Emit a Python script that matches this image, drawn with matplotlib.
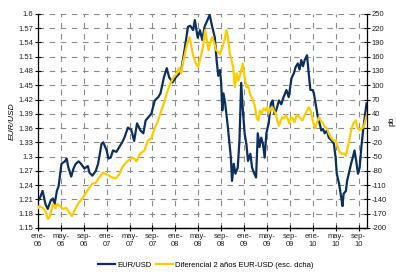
import numpy as np
import matplotlib
matplotlib.use("Agg")
import matplotlib.pyplot as plt

plt.rcParams['font.family'] = ['Liberation Sans', 'DejaVu Sans']

# months since ene-06 for each traced point
eur_m = [0.0, 0.3, 0.8, 1.3, 1.7, 2.2, 2.6, 2.9, 3.3, 3.6, 4.1, 4.7, 5.0, 5.3, 5.5, 5.8,
         6.2, 6.6, 7.1, 7.5, 8.1, 8.7, 9.0, 9.5, 10.1, 10.5, 11.1, 11.4, 12.0, 12.3,
         12.7, 13.1, 13.7, 14.2, 14.7, 15.1, 15.7, 16.3, 16.8, 17.3, 17.9, 18.4, 18.8,
         19.8, 20.4, 21.0, 21.4, 22.0, 22.5, 22.9, 23.5, 24.1, 24.7, 25.0, 25.6, 26.2,
         26.6, 27.1, 27.4, 27.9, 28.3, 28.7, 29.1, 29.6, 30.0, 30.4, 30.9, 31.2, 31.5,
         31.8, 32.0, 32.2, 32.4, 32.7, 33.1, 33.4, 33.7, 33.9, 34.2, 34.5, 34.9, 35.2,
         35.5, 35.8, 36.1, 36.4, 36.7, 37.1, 37.4, 37.8, 38.1, 38.4, 38.7, 39.0, 39.3,
         39.6, 39.9, 40.3, 40.7, 41.0, 41.3, 41.6, 42.1, 42.5, 42.9, 43.4, 43.8, 44.3,
         44.7, 45.0, 45.4, 45.7, 46.0, 46.3, 46.6, 47.0, 47.3, 47.6, 48.0, 48.2, 48.5,
         48.9, 49.2, 49.5, 49.8, 50.1, 50.5, 50.8, 51.3, 51.7, 52.0, 52.2, 52.6, 52.8,
         53.0, 53.2, 53.4, 53.8, 54.0, 54.3, 54.7, 55.0, 55.3, 55.6, 55.9, 56.2, 56.5,
         56.8, 57.1, 57.4]
eur_usd = [1.207, 1.212, 1.228, 1.200, 1.190, 1.207, 1.212, 1.200, 1.228, 1.238, 1.285,
           1.290, 1.296, 1.277, 1.270, 1.258, 1.275, 1.285, 1.290, 1.285, 1.275, 1.280,
           1.266, 1.260, 1.270, 1.285, 1.327, 1.330, 1.313, 1.296, 1.298, 1.313, 1.310,
           1.320, 1.330, 1.340, 1.361, 1.356, 1.333, 1.370, 1.355, 1.349, 1.376, 1.390,
           1.418, 1.425, 1.433, 1.467, 1.486, 1.467, 1.456, 1.467, 1.475, 1.480, 1.524,
           1.573, 1.575, 1.566, 1.587, 1.550, 1.566, 1.545, 1.573, 1.587, 1.598, 1.575,
           1.550, 1.503, 1.470, 1.482, 1.455, 1.397, 1.433, 1.412, 1.370, 1.334, 1.298,
           1.249, 1.285, 1.264, 1.277, 1.334, 1.455, 1.397, 1.349, 1.327, 1.291, 1.306,
           1.277, 1.264, 1.256, 1.349, 1.320, 1.340, 1.327, 1.298, 1.349, 1.370, 1.412,
           1.418, 1.390, 1.397, 1.418, 1.410, 1.425, 1.440, 1.425, 1.465, 1.475, 1.488,
           1.496, 1.483, 1.503, 1.490, 1.503, 1.513, 1.475, 1.440, 1.440, 1.433, 1.412,
           1.383, 1.370, 1.355, 1.358, 1.349, 1.355, 1.340, 1.334, 1.327, 1.298, 1.264,
           1.243, 1.228, 1.213, 1.196, 1.222, 1.228, 1.249, 1.264, 1.285, 1.298, 1.313,
           1.291, 1.264, 1.277, 1.320, 1.355, 1.383, 1.412]

dif_m = [0.0, 0.2, 0.8, 1.3, 1.7, 2.0, 2.3, 2.6, 3.0, 3.4, 3.8, 4.3, 4.9, 5.5, 5.9, 6.2,
         6.6, 7.1, 7.8, 8.4, 9.0, 9.5, 10.1, 10.7, 11.3, 11.9, 12.4, 13.0, 13.6, 14.2,
         14.7, 15.2, 15.8, 16.5, 16.9, 17.2, 17.8, 18.6, 19.2, 19.8, 20.4, 20.8, 21.4,
         22.0, 22.5, 23.1, 23.7, 24.3, 24.6, 25.0, 25.3, 25.7, 26.1, 26.5, 26.9, 27.2,
         27.6, 28.0, 28.3, 28.8, 29.2, 29.5, 29.8, 30.1, 30.4, 30.8, 31.1, 31.5, 31.8,
         32.0, 32.2, 32.6, 32.9, 33.2, 33.5, 33.8, 34.1, 34.4, 34.7, 35.0, 35.2, 35.5,
         35.8, 36.1, 36.4, 36.7, 37.0, 37.3, 37.6, 37.9, 38.2, 38.5, 38.8, 39.1, 39.4,
         39.7, 40.0, 40.3, 40.6, 40.9, 41.2, 41.5, 41.8, 42.1, 42.4, 42.7, 43.0, 43.3,
         43.6, 43.9, 44.2, 44.5, 44.8, 45.2, 45.7, 46.2, 46.6, 47.0, 47.3, 47.7, 48.0,
         48.4, 48.7, 49.1, 49.4, 49.8, 50.1, 50.5, 50.8, 51.2, 51.6, 52.0, 52.4, 52.8,
         53.1, 53.5, 53.8, 54.1, 54.4, 54.7, 55.1, 55.5, 55.8, 56.2, 56.5, 56.9, 57.2,
         57.5]
diferencial = [-158, -154, -158, -164, -181, -178, -164, -149, -158, -149, -154, -160,
               -158, -168, -175, -168, -158, -147, -137, -126, -115, -107, -105, -94,
               -84, -87, -90, -94, -96, -87, -73, -65, -58, -52, -55, -60, -44, -37,
               -16, -12, 11, 20, 41, 62, 83, 104, 117, 125, 136, 125, 146, 168, 189,
               201, 174, 159, 146, 138, 153, 180, 216, 195, 174, 189, 201, 189, 174,
               170, 165, 174, 180, 195, 216, 201, 168, 153, 138, 96, 125, 110, 117, 132,
               146, 117, 96, 100, 83, 75, 68, 54, 33, 26, 47, 41, 51, 47, 54, 41, 51,
               54, 47, 41, 26, 15, 26, 33, 30, 37, 30, 20, 33, 30, 22, 37, 33, 26, 37,
               47, 54, 44, 26, 9, 20, 33, 26, 20, 12, 9, -1, -10, -16, -16, -31, -42,
               -44, -44, -48, -31, -16, 5, 20, 26, 12, 5, 9, 12, 26, 41]

tick_labels = ['ene-\n06', 'may-\n06', 'sep-\n06', 'ene-\n07', 'may-\n07', 'sep-\n07',
               'ene-\n08', 'may-\n08', 'sep-\n08', 'ene-\n09', 'may-\n09', 'sep-\n09',
               'ene-\n10', 'may-\n10', 'sep-\n10']
left_ticks = [1.15, 1.18, 1.21, 1.24, 1.27, 1.3, 1.33, 1.36, 1.39, 1.42, 1.45, 1.48,
              1.51, 1.54, 1.57, 1.6]
right_ticks = [-200, -170, -140, -110, -80, -50, -20, 10, 40, 70, 100, 130, 160, 190,
               220, 250]

blue = '#0b2f5e'
gold = '#ffcc00'

fig = plt.figure(figsize=(3.96, 2.73), dpi=100)
ax = fig.add_axes([0.096, 0.165, 0.831, 0.784])
ax2 = ax.twinx()

l1, = ax.plot(eur_m, eur_usd, color=blue, lw=1.6, label='EUR/USD')
l2, = ax2.plot(dif_m, diferencial, color=gold, lw=1.6,
               label='Diferencial 2 años EUR-USD (esc. dcha)')

ax.set_xlim(0, 57.5)
ax.set_ylim(1.15, 1.6)
ax2.set_ylim(-200, 250)

ax.set_xticks(np.arange(0, 57, 4))
ax.set_xticklabels(tick_labels, fontsize=5.5, color='#222222', linespacing=1.3)
ax.set_yticks(left_ticks)
ax.set_yticklabels(['%g' % t for t in left_ticks], fontsize=5.5, color='#222222')
ax2.set_yticks(right_ticks)
ax2.set_yticklabels([str(t) for t in right_ticks], fontsize=5.5, color='#222222')

ax.tick_params(axis='both', direction='inout', length=4, width=0.8, pad=1.5)
ax2.tick_params(axis='y', direction='inout', length=4, width=0.8, pad=1.5)

ax.grid(True, color='#8c8c8c', lw=0.8, linestyle=(0, (5, 5)))
for a in (ax, ax2):
    a.spines['top'].set_visible(False)
    for s in ('left', 'right', 'bottom'):
        a.spines[s].set_linewidth(0.9)
ax2.spines['left'].set_visible(False)
ax.spines['right'].set_visible(False)

ax.set_ylabel('EUR/USD', fontsize=6, style='italic', labelpad=2)
ax2.set_ylabel('pb', fontsize=6, labelpad=1)

fig.legend([l1, l2], [l1.get_label(), l2.get_label()], loc='lower center',
           bbox_to_anchor=(0.52, -0.01), ncol=2, frameon=False, fontsize=5.5,
           handlelength=2.2, handletextpad=0.3, columnspacing=0.6)

fig.savefig('out.png', dpi=100)
